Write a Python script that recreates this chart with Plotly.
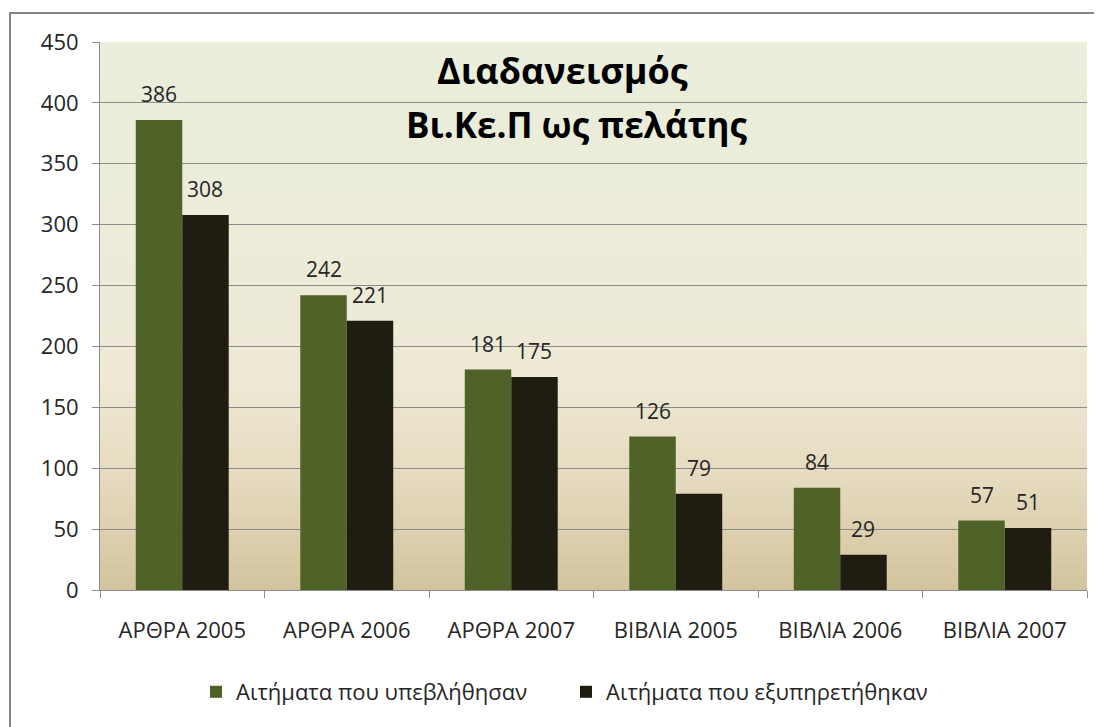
import plotly.graph_objects as go

categories = ["ΑΡΘΡΑ 2005", "ΑΡΘΡΑ 2006", "ΑΡΘΡΑ 2007", "ΒΙΒΛΙΑ 2005", "ΒΙΒΛΙΑ 2006", "ΒΙΒΛΙΑ 2007"]
submitted = [386, 242, 181, 126, 84, 57]
served = [308, 221, 175, 79, 29, 51]
series_names = ["Αιτήματα που υπεβλήθησαν", "Αιτήματα που εξυπηρετήθηκαν"]
y_ticks = [0, 50, 100, 150, 200, 250, 300, 350, 400, 450]
title_lines = ["Διαδανεισμός", "Βι.Κε.Π ως πελάτης"]

FONT = "Open Sans"
GREEN = "#4F6228"
DARK = "#1F1D12"
TXT = "#262626"

OFF = 8  # page body margin
W, H = 1102 - OFF, 727 - OFF
# plot area in page pixels
PX0, PX1, PY0, PY1 = 100, 1087, 42, 590
L, R, T, B = PX0 - OFF, (1102 - PX1), PY0 - OFF, (727 - PY1)
plot_w = PX1 - PX0
plot_h = PY1 - PY0
bar_gap = 0.435
bar_w_px = plot_w / len(categories) * (1 - bar_gap) / 2


def px_x(x):
    return (x - PX0) / plot_w


def px_y(y):
    return (PY1 - y) / plot_h


fig = go.Figure()
fig.add_bar(x=categories, y=submitted, name=series_names[0], marker=dict(color=GREEN, line=dict(width=0)))
fig.add_bar(x=categories, y=served, name=series_names[1], marker=dict(color=DARK, line=dict(width=0)))

# data labels
anns = []
for vals, shift in ((submitted, -bar_w_px / 2), (served, bar_w_px / 2)):
    for c, v in zip(categories, vals):
        anns.append(dict(x=c, y=v, xref="x", yref="y", text=str(v), showarrow=False,
                         xshift=shift, yshift=10, yanchor="bottom",
                         font=dict(family=FONT, size=21, color=TXT)))

# title
anns.append(dict(x=px_x(562), y=px_y(70), xref="paper", yref="paper",
                 text=title_lines[0], showarrow=False, xanchor="center", yanchor="middle",
                 font=dict(family=FONT, size=36, color="#000000", weight="bold")))
anns.append(dict(x=px_x(577), y=px_y(125), xref="paper", yref="paper",
                 text=title_lines[1], showarrow=False, xanchor="center", yanchor="middle",
                 font=dict(family=FONT, size=35, color="#000000", weight="bold")))


# background gradient bands
def lerp(a, b, t):
    return tuple(a[i] + (b[i] - a[i]) * t for i in range(3))


stops = [(0.0, (234, 238, 220)), (0.45, (237, 235, 216)), (0.62, (238, 232, 212)),
         (0.8, (229, 218, 190)), (1.0, (211, 196, 158))]


def color_at(f):
    for (f0, c0), (f1, c1) in zip(stops[:-1], stops[1:]):
        if f0 <= f <= f1:
            c = lerp(c0, c1, (f - f0) / (f1 - f0))
            return "rgb(%d,%d,%d)" % tuple(round(x) for x in c)
    return "rgb(%d,%d,%d)" % stops[-1][1]


shapes = []
N = 110
for i in range(N):
    f = (i + 0.5) / N
    y1 = 1 - i / N
    y0 = 1 - (i + 1) / N - 0.002
    shapes.append(dict(type="rect", xref="paper", yref="paper", x0=0, x1=1, y0=max(y0, 0), y1=y1,
                       fillcolor=color_at(f), line=dict(width=0), layer="below"))

# outer chart-area border
shapes.append(dict(type="rect", xref="paper", yref="paper",
                   x0=px_x(10), x1=px_x(1120), y0=px_y(745), y1=px_y(13),
                   line=dict(color="#858585", width=2), fillcolor="rgba(0,0,0,0)", layer="above"))

fig.update_layout(
    width=W, height=H,
    margin=dict(l=L, r=R, t=T, b=B),
    paper_bgcolor="white", plot_bgcolor="rgba(0,0,0,0)",
    barmode="group", bargap=bar_gap, bargroupgap=0,
    font=dict(family=FONT, color=TXT),
    showlegend=True,
    legend=dict(orientation="h", x=px_x(566), xanchor="center", y=px_y(692),
                yanchor="middle", font=dict(family=FONT, size=22, color=TXT),
                itemwidth=30, traceorder="normal", bgcolor="rgba(0,0,0,0)",
                entrywidth=325, entrywidthmode="pixels"),
    annotations=anns, shapes=shapes,
)
fig.update_yaxes(range=[0, 450], tickvals=y_ticks, showgrid=True, gridcolor="#8C8C8C", gridwidth=1,
                 showline=True, linecolor="#8C8C8C", linewidth=1, ticks="outside", ticklen=7,
                 tickcolor="#8C8C8C", tickfont=dict(family=FONT, size=22, color=TXT),
                 ticklabelstandoff=9, zeroline=False)
fig.update_xaxes(showline=True, linecolor="#8C8C8C", linewidth=1, ticks="outside", ticklen=7,
                 tickcolor="#8C8C8C", tickson="boundaries", showgrid=False,
                 tickfont=dict(family=FONT, size=22, color=TXT), ticklabelstandoff=21)

fig.write_html("out.html")
